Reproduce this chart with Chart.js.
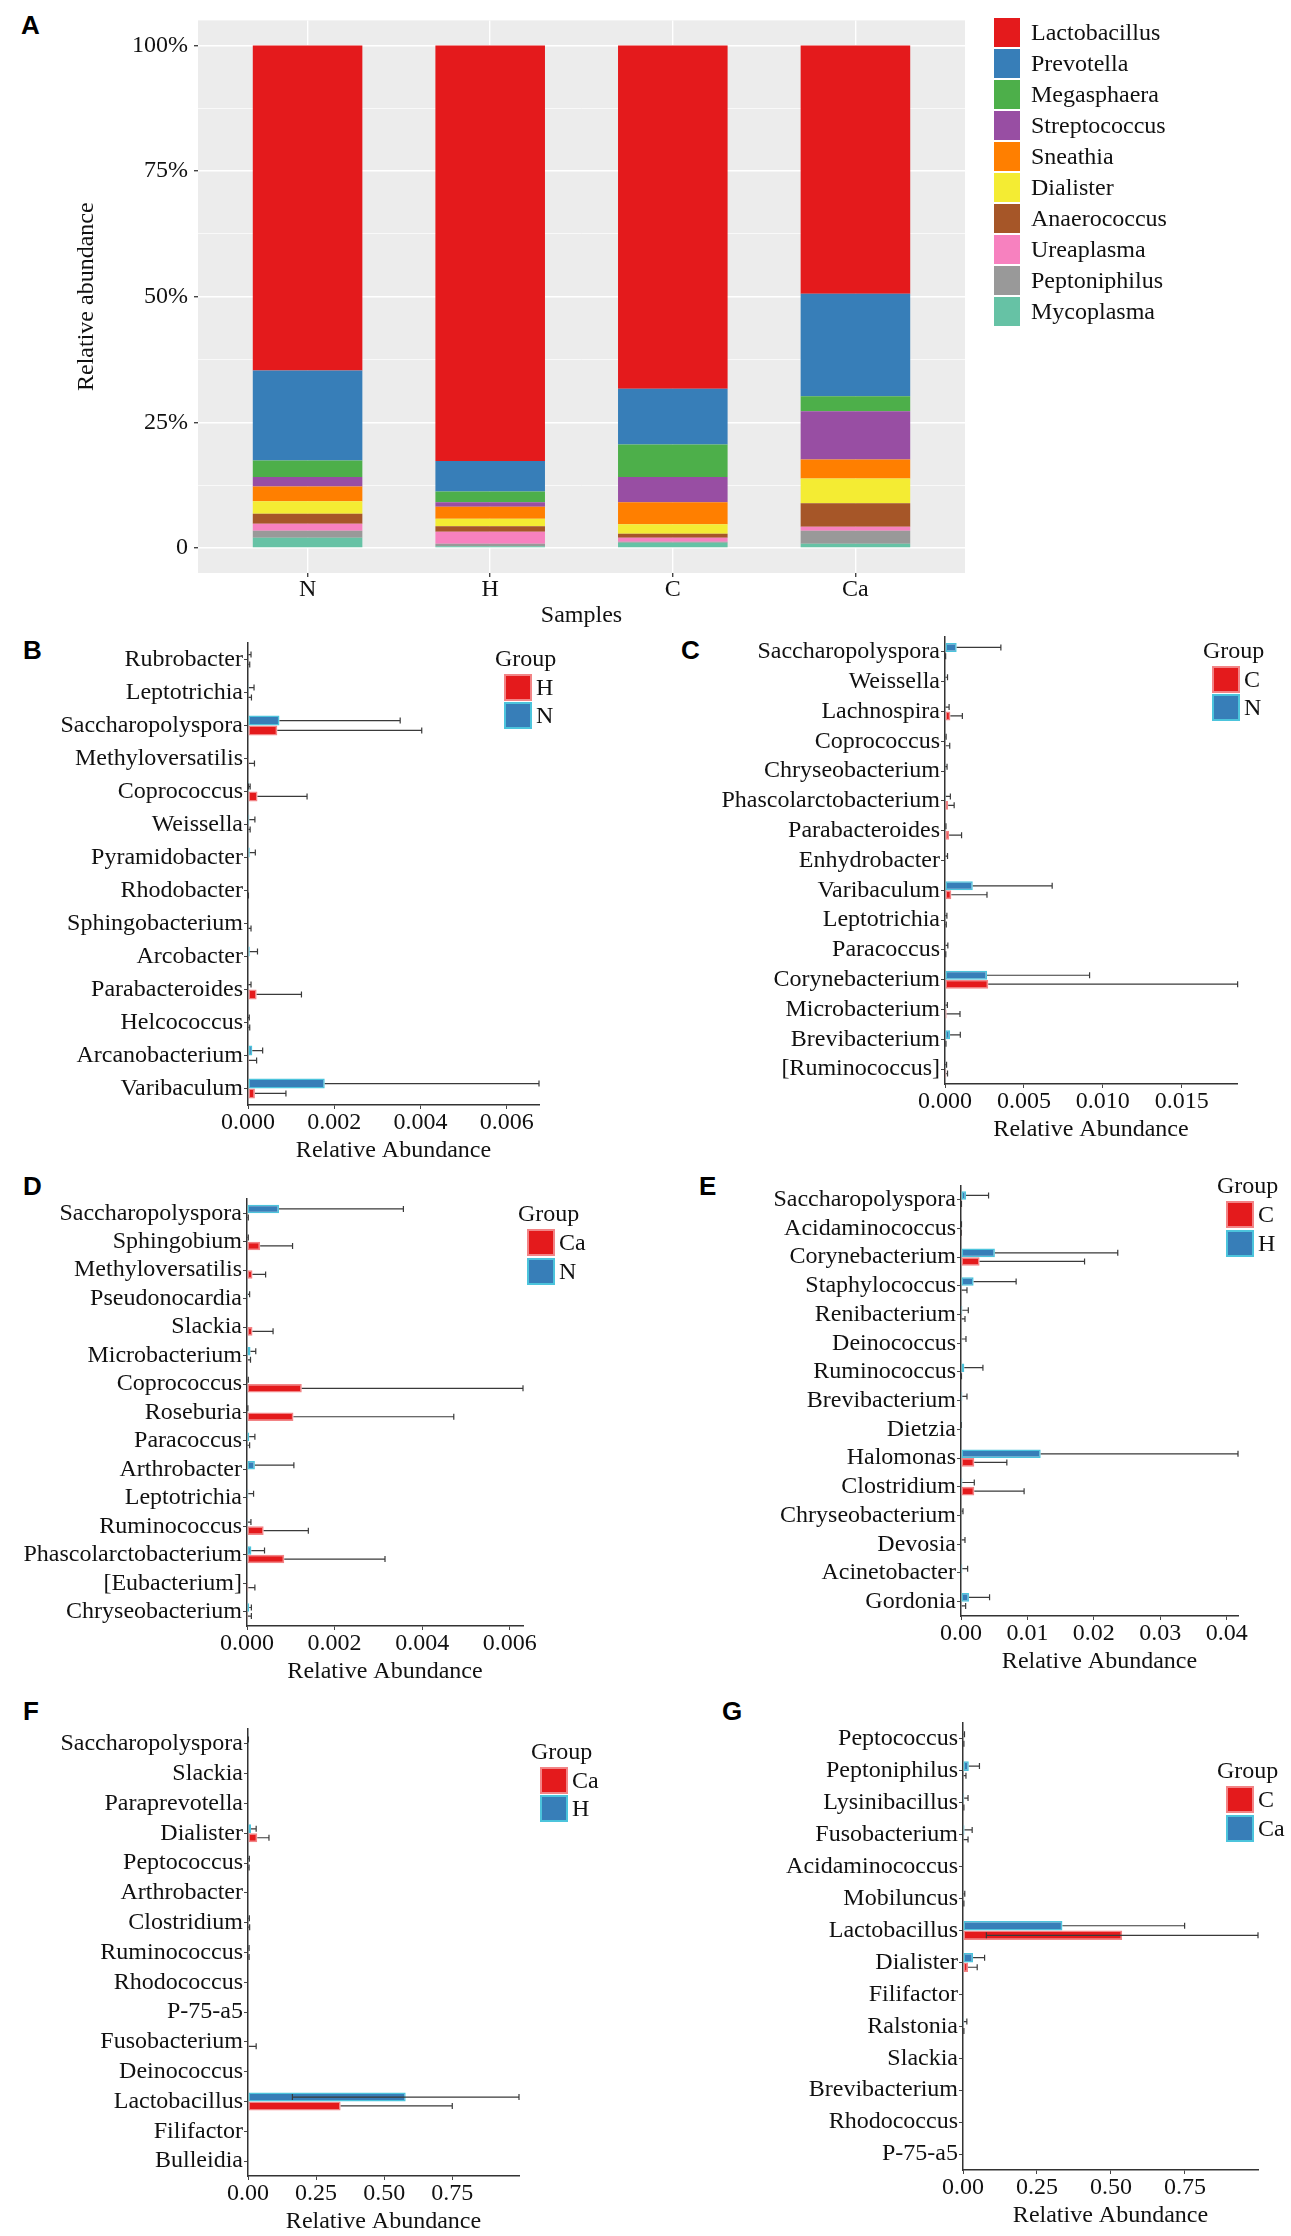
<!DOCTYPE html>
<html>
<head>
<meta charset="utf-8">
<script src="https://cdn.jsdelivr.net/npm/chart.js@4.4.1/dist/chart.umd.min.js"></script>
<style>
  body { margin: 0; background: #fff; width: 1291px; height: 2236px; position: relative; overflow: hidden; }
  canvas { position: absolute; }
  .tag { position: absolute; font: bold 26px "Liberation Sans", Arial, sans-serif; line-height: 26px; color: #000; }
</style>
</head>
<body>
<div class="tag" style="left:21px;top:12px">A</div>
<div class="tag" style="left:23px;top:637px">B</div>
<div class="tag" style="left:681px;top:637px">C</div>
<div class="tag" style="left:23px;top:1173px">D</div>
<div class="tag" style="left:699px;top:1173px">E</div>
<div class="tag" style="left:23px;top:1698px">F</div>
<div class="tag" style="left:722px;top:1698px">G</div>

<canvas id="chartA"></canvas>
<canvas id="chartB"></canvas>
<canvas id="chartC"></canvas>
<canvas id="chartD"></canvas>
<canvas id="chartE"></canvas>
<canvas id="chartF"></canvas>
<canvas id="chartG"></canvas>

<script>
// ---- panel A: genus composition per group (percent) ----
const samples = ['N', 'H', 'C', 'Ca'];
const genera = ['Lactobacillus', 'Prevotella', 'Megasphaera', 'Streptococcus', 'Sneathia',
                'Dialister', 'Anaerococcus', 'Ureaplasma', 'Peptoniphilus', 'Mycoplasma'];
const genusColors = ['#E41A1C', '#377EB8', '#4DAF4A', '#984EA3', '#FF7F00',
                     '#F4EC33', '#A65628', '#F781BF', '#999999', '#66C2A5'];
const lactobacillus = [64.7, 82.7, 68.3, 49.4];
const prevotella    = [17.9, 6.1, 11.1, 20.4];
const megasphaera   = [3.3, 2.1, 6.5, 3.0];
const streptococcus = [1.9, 0.9, 5.0, 9.6];
const sneathia      = [2.9, 2.4, 4.4, 3.8];
const dialister     = [2.5, 1.5, 1.9, 4.9];
const anaerococcus  = [2.0, 1.1, 0.8, 4.7];
const ureaplasma    = [1.4, 2.4, 0.8, 0.8];
const peptoniphilus = [1.4, 0.5, 0.2, 2.6];
const mycoplasma    = [2.0, 0.3, 1.0, 0.8];
const genusValues = [lactobacillus, prevotella, megasphaera, streptococcus, sneathia,
                     dialister, anaerococcus, ureaplasma, peptoniphilus, mycoplasma];
const yTicksA = [0, 25, 50, 75, 100];
const yMinorA = [12.5, 37.5, 62.5, 87.5];

// ---- panel B: H vs N ----
const bGenera = ['Rubrobacter', 'Leptotrichia', 'Saccharopolyspora', 'Methyloversatilis', 'Coprococcus',
  'Weissella', 'Pyramidobacter', 'Rhodobacter', 'Sphingobacterium', 'Arcobacter', 'Parabacteroides',
  'Helcococcus', 'Arcanobacterium', 'Varibaculum'];
const bMeanN = [0.00001, 0.00002, 0.00073, 0, 0.00003, 0.00003, 0.00004, 0.00001, 0, 0.00004, 0.00001, 0, 0.0001, 0.00178];
const bSdN   = [0.00006, 0.00012, 0.0028, 0, 0.00002, 0.00013, 0.00013, 0, 0, 0.00018, 0.00006, 0.00003, 0.00024, 0.00497];
const bMeanH = [0.00001, 0.00001, 0.00068, 0.00002, 0.00022, 0.00001, 0, 0, 0.00001, 0, 0.0002, 0.00001, 0.00002, 0.00016];
const bSdH   = [0.00003, 0.00007, 0.00335, 0.00013, 0.00115, 0.00004, 0, 0.00001, 0.00006, 0, 0.00104, 0.00003, 0.00018, 0.00072];
const bTicks = [0, 0.002, 0.004, 0.006];

// ---- panel C: C vs N ----
const cGenera = ['Saccharopolyspora', 'Weissella', 'Lachnospira', 'Coprococcus', 'Chryseobacterium',
  'Phascolarctobacterium', 'Parabacteroides', 'Enhydrobacter', 'Varibaculum', 'Leptotrichia',
  'Paracoccus', 'Corynebacterium', 'Microbacterium', 'Brevibacterium', '[Ruminococcus]'];
const cMeanN = [0.00074, 0.00002, 0.00003, 0.00002, 0.00002, 0.00005, 0.00002, 0.00003, 0.00176, 0.00002, 0.00003, 0.00266, 0.00003, 0.00032, 0.00002];
const cSdN   = [0.0028, 0.00014, 0.00023, 0.00005, 0.00011, 0.00029, 0.00004, 0.00013, 0.00503, 0.0001, 0.00015, 0.0065, 0.00012, 0.00065, 0.00008];
const cMeanC = [0.00001, 0, 0.00034, 0.00005, 0, 0.0002, 0.00026, 0, 0.0004, 0.00002, 0.00001, 0.00274, 0.0001, 0.00002, 0.00008];
const cSdC   = [0.00003, 0, 0.00076, 0.00025, 0, 0.00038, 0.00079, 0, 0.00226, 0.00006, 0.00004, 0.0158, 0.00085, 0.00004, 0.00008];
const cTicks = [0, 0.005, 0.010, 0.015];

// ---- panel D: Ca vs N ----
const dGenera = ['Saccharopolyspora', 'Sphingobium', 'Methyloversatilis', 'Pseudonocardia', 'Slackia',
  'Microbacterium', 'Coprococcus', 'Roseburia', 'Paracoccus', 'Arthrobacter', 'Leptotrichia',
  'Ruminococcus', 'Phascolarctobacterium', '[Eubacterium]', 'Chryseobacterium'];
const dMeanN  = [0.00073, 0.00001, 0, 0.00002, 0, 0.00008, 0.00001, 0.00001, 0.00005, 0.00018, 0.00003, 0.00002, 0.0001, 0, 0.00005];
const dSdN    = [0.00284, 0.00002, 0, 0.00004, 0, 0.00012, 0.00002, 0.00001, 0.00013, 0.00089, 0.00012, 0.00007, 0.0003, 0, 0.00005];
const dMeanCa = [0.00001, 0.0003, 0.000125, 0, 0.000125, 0.00002, 0.00125, 0.00106, 0.00001, 0, 0, 0.00038, 0.00085, 0.00003, 0.00002];
const dSdCa   = [0.00002, 0.00074, 0.0003, 0, 0.00047, 0.00006, 0.00505, 0.00366, 0.00005, 0, 0, 0.00102, 0.0023, 0.00015, 0.00008];

// ---- panel E: C vs H ----
const eGenera = ['Saccharopolyspora', 'Acidaminococcus', 'Corynebacterium', 'Staphylococcus', 'Renibacterium',
  'Deinococcus', 'Ruminococcus', 'Brevibacterium', 'Dietzia', 'Halomonas', 'Clostridium',
  'Chryseobacterium', 'Devosia', 'Acinetobacter', 'Gordonia'];
const eMeanH = [0.00075, 0.00002, 0.0051, 0.0019, 0.0002, 0.0001, 0.0005, 0.0002, 0.00001, 0.012, 0.0002, 0.0001, 0.0001, 0.0002, 0.0012];
const eSdH   = [0.0034, 0.00005, 0.0185, 0.0064, 0.0009, 0.00065, 0.0028, 0.0007, 0.00002, 0.0297, 0.0018, 0.0002, 0.0005, 0.0008, 0.0031];
const eMeanC = [0.00002, 0.00001, 0.0028, 0.0001, 0.0001, 0, 0.00002, 0, 0, 0.002, 0.002, 0, 0, 0, 0.0001];
const eSdC   = [0.00005, 0.00002, 0.0158, 0.0008, 0.0005, 0, 0.00005, 0, 0, 0.0049, 0.0075, 0, 0, 0, 0.0006];
const eTicks = [0, 0.01, 0.02, 0.03, 0.04];

// ---- panel F: Ca vs H ----
const fGenera = ['Saccharopolyspora', 'Slackia', 'Paraprevotella', 'Dialister', 'Peptococcus', 'Arthrobacter',
  'Clostridium', 'Ruminococcus', 'Rhodococcus', 'P-75-a5', 'Fusobacterium', 'Deinococcus',
  'Lactobacillus', 'Filifactor', 'Bulleidia'];
const fMeanH  = [0.0005, 0, 0, 0.011, 0.001, 0, 0.001, 0.001, 0, 0, 0, 0, 0.579, 0, 0];
const fSdH    = [0.001, 0, 0, 0.019, 0.004, 0, 0.004, 0.003, 0, 0, 0, 0, 0.416, 0, 0];
const fMeanCa = [0, 0, 0, 0.034, 0.001, 0, 0.001, 0.001, 0, 0, 0.003, 0, 0.34, 0, 0];
const fSdCa   = [0, 0, 0, 0.043, 0.003, 0, 0.005, 0.003, 0, 0, 0.027, 0, 0.41, 0, 0];
const fracTicks = [0, 0.25, 0.5, 0.75];

// ---- panel G: C vs Ca ----
const gGenera = ['Peptococcus', 'Peptoniphilus', 'Lysinibacillus', 'Fusobacterium', 'Acidaminococcus',
  'Mobiluncus', 'Lactobacillus', 'Dialister', 'Filifactor', 'Ralstonia', 'Slackia', 'Brevibacterium',
  'Rhodococcus', 'P-75-a5'];
const gMeanCa = [0.002, 0.0196, 0.004, 0.005, 0, 0.002, 0.336, 0.034, 0, 0.003, 0, 0, 0, 0];
const gSdCa   = [0.003, 0.036, 0.013, 0.026, 0, 0.004, 0.413, 0.039, 0, 0.01, 0, 0, 0, 0];
const gMeanC  = [0.001, 0.002, 0.001, 0.002, 0, 0.001, 0.538, 0.017, 0, 0.001, 0, 0, 0, 0];
const gSdC    = [0.002, 0.008, 0.002, 0.015, 0, 0.002, 0.459, 0.031, 0, 0.002, 0, 0, 0, 0];

const SERIF = '"Liberation Serif", "Times New Roman", serif';
const INK = '#111';
const BLUE = '#377EB8', BLUE_EDGE = '#4CC4DC';
const RED = '#E41A1C', RED_EDGE = '#F28486';

Chart.defaults.font.family = SERIF;
Chart.defaults.font.size = 24;
Chart.defaults.color = INK;

// grey ggplot panel behind panel A
const panelBg = {
  id: 'panelBg',
  beforeDraw(chart, args, o) {
    if (!o.color) return;
    const { ctx, chartArea: a } = chart;
    ctx.save();
    ctx.fillStyle = o.color;
    ctx.fillRect(a.left, a.top, a.right - a.left, a.bottom - a.top);
    ctx.restore();
  }
};

// mean +/- sd whiskers on the horizontal bars
const errorBars = {
  id: 'errorBars',
  afterDatasetsDraw(chart) {
    const { ctx } = chart;
    const x = chart.scales.x;
    ctx.save();
    ctx.strokeStyle = '#3a3a3a';
    ctx.lineWidth = 1.2;
    chart.data.datasets.forEach((ds, di) => {
      if (!ds.sd) return;
      chart.getDatasetMeta(di).data.forEach((bar, i) => {
        const m = ds.data[i], s = ds.sd[i];
        if (!s) return;
        const low = m - s > 0 ? m - s : m;
        const x0 = x.getPixelForValue(low), x1 = x.getPixelForValue(m + s);
        const y = bar.y, h = 3;
        ctx.beginPath();
        ctx.moveTo(x0, y); ctx.lineTo(x1, y);
        ctx.moveTo(x1, y - h); ctx.lineTo(x1, y + h);
        if (m - s > 0) { ctx.moveTo(x0, y - h); ctx.lineTo(x0, y + h); }
        ctx.stroke();
      });
    });
    ctx.restore();
  }
};

// legend drawn at a fixed spot, items = datasets in reverse order
const groupLegend = {
  id: 'groupLegend',
  afterDraw(chart, args, o) {
    if (o.x === undefined) return;
    const ctx = chart.ctx;
    const items = chart.data.datasets.slice().reverse();
    ctx.save();
    ctx.font = '24px ' + SERIF;
    ctx.textBaseline = 'middle';
    ctx.fillStyle = INK;
    if (o.title) ctx.fillText(o.title, o.x - 9, o.y - 14);
    items.forEach((ds, k) => {
      const top = o.y + k * o.step;
      ctx.fillStyle = ds.backgroundColor;
      ctx.fillRect(o.x, top, o.w, o.h);
      if (ds.borderWidth) {
        ctx.strokeStyle = ds.borderColor;
        ctx.lineWidth = 2;
        ctx.strokeRect(o.x + 1, top + 1, o.w - 2, o.h - 2);
      }
      ctx.fillStyle = INK;
      ctx.fillText(ds.label, o.x + o.w + o.gap, top + o.h / 2 + 1);
    });
    ctx.restore();
  }
};

Chart.register(panelBg, errorBars, groupLegend);

// size a canvas so that the plot area lands on `area` (page coords)
function place(id, box, area, xh) {
  const cv = document.getElementById(id);
  cv.width = box.w; cv.height = box.h;
  cv.style.left = box.x + 'px'; cv.style.top = box.y + 'px';
  cv.style.width = box.w + 'px'; cv.style.height = box.h + 'px';
  return {
    canvas: cv,
    yw: area.x0 - box.x,
    padding: { left: 0, top: area.y0 - box.y, right: box.x + box.w - area.x1, bottom: box.y + box.h - area.y1 - xh }
  };
}

// ---- panel A ----
(function () {
  const xh = 57;
  const p = place('chartA', { x: 72, y: 0, w: 1219, h: 640 }, { x0: 198, y0: 9, x1: 965, y1: 573 }, xh);
  const datasets = genera.map((g, i) => ({
    label: g,
    data: genusValues[i].map((v, k) => ({ x: k, y: v })),
    backgroundColor: genusColors[i],
    borderWidth: 0
  })).reverse();
  new Chart(p.canvas, {
    type: 'bar',
    data: { datasets },
    options: {
      responsive: false, animation: false, devicePixelRatio: 1,
      layout: { padding: p.padding },
      datasets: { bar: { barPercentage: 0.6, categoryPercentage: 1 } },
      plugins: {
        legend: { display: false }, tooltip: { enabled: false },
        panelBg: { color: '#ECECEC' },
        groupLegend: { x: 994 - 72, y: 18, w: 26, h: 29, step: 31, gap: 11 }
      },
      scales: {
        x: {
          type: 'linear', stacked: true, min: -0.6, max: 3.6, offset: false,
          afterBuildTicks: s => { s.ticks = samples.map((_, k) => ({ value: k })); },
          afterFit: s => { s.height = xh; },
          ticks: { callback: v => samples[v], padding: -2 },
          grid: { offset: false, color: '#fff', lineWidth: 1.4, tickColor: '#444', tickLength: 4 },
          border: { display: false },
          title: { display: true, text: 'Samples', padding: 0 }
        },
        y: {
          stacked: true, min: -5, max: 105,
          afterBuildTicks: s => { s.ticks = yTicksA.concat(yMinorA).sort((a, b) => a - b).map(v => ({ value: v })); },
          afterFit: s => { s.width = p.yw; },
          ticks: { callback: v => (v % 25 ? '' : (v ? v + '%' : '0')), padding: 6 },
          grid: {
            color: '#fff',
            lineWidth: c => (c.tick && c.tick.value % 25 ? 0.7 : 1.4),
            tickColor: c => (c.tick && c.tick.value % 25 ? 'rgba(0,0,0,0)' : '#444'),
            tickLength: 4
          },
          border: { display: false },
          title: { display: true, text: 'Relative abundance', padding: 0 }
        }
      }
    }
  });
})();

// ---- panels B-G ----
function compareChart(id, box, area, cats, blue, red, xMax, ticks, digits, legendAt) {
  const xh = 60;
  const p = place(id, box, area, xh);
  new Chart(p.canvas, {
    type: 'bar',
    data: {
      labels: cats,
      datasets: [
        { label: blue.label, data: blue.mean, sd: blue.sd, backgroundColor: BLUE, borderColor: BLUE_EDGE, borderWidth: 1.5, borderSkipped: false },
        { label: red.label, data: red.mean, sd: red.sd, backgroundColor: RED, borderColor: RED_EDGE, borderWidth: 1.5, borderSkipped: false }
      ]
    },
    options: {
      indexAxis: 'y',
      responsive: false, animation: false, devicePixelRatio: 1,
      layout: { padding: p.padding },
      datasets: { bar: { barPercentage: 1, categoryPercentage: 0.6 } },
      plugins: {
        legend: { display: false }, tooltip: { enabled: false },
        groupLegend: { title: 'Group', x: legendAt.x - box.x, y: legendAt.y - box.y, w: 28, h: 27, step: legendAt.step, gap: 4 }
      },
      scales: {
        x: {
          type: 'linear', min: 0, max: xMax,
          afterBuildTicks: s => { s.ticks = ticks.map(v => ({ value: v })); },
          afterFit: s => { s.height = xh; },
          ticks: { callback: v => v.toFixed(digits), padding: -1 },
          grid: { drawOnChartArea: false, tickColor: '#444', tickLength: 4 },
          border: { color: '#333', width: 1.5 },
          title: { display: true, text: 'Relative Abundance', padding: 0 }
        },
        y: {
          type: 'category', offset: true,
          afterFit: s => { s.width = p.yw; },
          ticks: { autoSkip: false, padding: 1 },
          grid: { drawOnChartArea: false, offset: false, tickColor: '#444', tickLength: 4 },
          border: { color: '#333', width: 1.5 }
        }
      }
    }
  });
}

compareChart('chartB', { x: 0, y: 620, w: 645, h: 550 }, { x0: 248, y0: 643, x1: 539, y1: 1105 }, bGenera,
  { label: 'N', mean: bMeanN, sd: bSdN }, { label: 'H', mean: bMeanH, sd: bSdH },
  0.00675, bTicks, 3, { x: 504, y: 674, step: 28 });

compareChart('chartC', { x: 648, y: 620, w: 643, h: 550 }, { x0: 945, y0: 637, x1: 1237, y1: 1084 }, cGenera,
  { label: 'N', mean: cMeanN, sd: cSdN }, { label: 'C', mean: cMeanC, sd: cSdC },
  0.0185, cTicks, 3, { x: 1212, y: 666, step: 28 });

compareChart('chartD', { x: 0, y: 1170, w: 645, h: 530 }, { x0: 247, y0: 1199, x1: 523, y1: 1626 }, dGenera,
  { label: 'N', mean: dMeanN, sd: dSdN }, { label: 'Ca', mean: dMeanCa, sd: dSdCa },
  0.0063, bTicks, 3, { x: 527, y: 1229, step: 29 });

compareChart('chartE', { x: 648, y: 1170, w: 643, h: 530 }, { x0: 961, y0: 1175, x1: 1238, y1: 1616 }, eGenera,
  { label: 'H', mean: eMeanH, sd: eSdH }, { label: 'C', mean: eMeanC, sd: eSdC },
  0.0417, eTicks, 2, { x: 1226, y: 1201, step: 29 });

compareChart('chartF', { x: 0, y: 1700, w: 645, h: 536 }, { x0: 248, y0: 1729, x1: 519, y1: 2176 }, fGenera,
  { label: 'H', mean: fMeanH, sd: fSdH }, { label: 'Ca', mean: fMeanCa, sd: fSdCa },
  0.995, fracTicks, 2, { x: 540, y: 1767, step: 28 });

compareChart('chartG', { x: 648, y: 1700, w: 643, h: 536 }, { x0: 963, y0: 1723, x1: 1258, y1: 2170 }, gGenera,
  { label: 'Ca', mean: gMeanCa, sd: gSdCa }, { label: 'C', mean: gMeanC, sd: gSdC },
  0.997, fracTicks, 2, { x: 1226, y: 1786, step: 29 });
</script>
</body>
</html>
